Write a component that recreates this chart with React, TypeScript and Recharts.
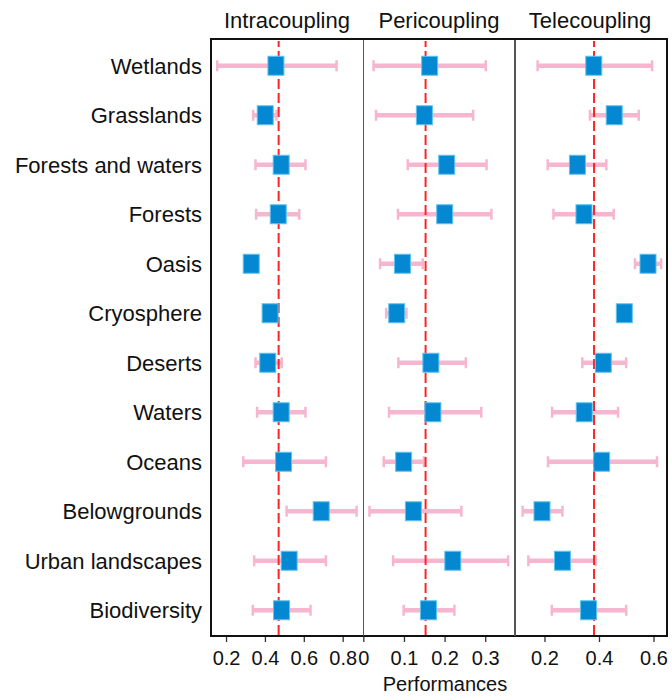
import React from "react"
import { ScatterChart, Scatter, XAxis, YAxis, ErrorBar, ReferenceLine } from "recharts"

const categories = [
  "Wetlands", "Grasslands", "Forests and waters", "Forests", "Oasis", "Cryosphere",
  "Deserts", "Waters", "Oceans", "Belowgrounds", "Urban landscapes", "Biodiversity",
]

const intraMean = [0.454, 0.399, 0.481, 0.466, 0.327, 0.424, 0.412, 0.481, 0.493, 0.687, 0.522, 0.483]
const intraLow = [0.152, 0.337, 0.349, 0.352, 0.312, 0.41, 0.349, 0.357, 0.286, 0.509, 0.342, 0.335]
const intraHigh = [0.766, 0.457, 0.606, 0.574, 0.342, 0.44, 0.484, 0.606, 0.711, 0.869, 0.711, 0.632]

const periMean = [0.162, 0.149, 0.204, 0.199, 0.095, 0.081, 0.165, 0.17, 0.098, 0.122, 0.219, 0.159]
const periLow = [0.024, 0.03, 0.108, 0.084, 0.04, 0.055, 0.085, 0.062, 0.049, 0.014, 0.072, 0.098]
const periHigh = [0.3, 0.269, 0.302, 0.314, 0.145, 0.105, 0.251, 0.289, 0.148, 0.24, 0.355, 0.223]

const teleMean = [0.379, 0.454, 0.319, 0.343, 0.578, 0.491, 0.414, 0.344, 0.408, 0.189, 0.264, 0.36]
const teleLow = [0.173, 0.365, 0.21, 0.231, 0.53, 0.48, 0.337, 0.226, 0.211, 0.118, 0.139, 0.225]
const teleHigh = [0.593, 0.544, 0.425, 0.452, 0.626, 0.502, 0.498, 0.468, 0.611, 0.264, 0.386, 0.498]

const intraTicks = [0.2, 0.4, 0.6, 0.8]
const periTicks = [0, 0.1, 0.2, 0.3]
const teleTicks = [0.2, 0.4, 0.6]

const intraRef = 0.468
const periRef = 0.152
const teleRef = 0.38

const W = 672
const H = 697
const FONT = "'Liberation Sans', Arial, sans-serif"
const rowTicks = categories.map((_, i) => i)

const Square = (props: any) => {
  const { cx, cy } = props
  if (cx == null || cy == null) return null
  return <rect x={cx - 8} y={cy - 9.5} width={16} height={19} fill="#0488d2" stroke="#5fc3f0" strokeWidth={1} />
}
const Empty = () => <g />

type PanelProps = {
  means: number[]
  lows: number[]
  highs: number[]
  ticks: number[]
  domain: [number, number]
  refValue: number
  left: number
  right: number
  showY?: boolean
}

function Panel({ means, lows, highs, ticks, domain, refValue, left, right, showY }: PanelProps) {
  const data = means.map((m, i) => ({ x: m, y: i, err: [m - lows[i], highs[i] - m] }))
  return (
    <div style={{ position: "absolute", left: 0, top: 0 }}>
      <ScatterChart width={W} height={H} margin={{ top: 41, bottom: 0, left: showY ? 0 : left, right }}>
        <XAxis
          type="number"
          dataKey="x"
          domain={domain}
          ticks={ticks}
          allowDataOverflow
          height={62}
          axisLine={false}
          tickSize={7}
          tickMargin={9}
          tickLine={{ stroke: "#333", strokeWidth: 1.3 }}
          tick={{ fontSize: 20, fill: "#111" }}
          tickFormatter={(v: number) => (v === 0 ? "0" : v.toFixed(1))}
        />
        <YAxis
          type="number"
          dataKey="y"
          domain={[-0.5, 11.5]}
          ticks={rowTicks}
          reversed
          hide={!showY}
          width={left}
          axisLine={false}
          tickLine={false}
          tickSize={0}
          tickMargin={9}
          interval={0}
          tick={{ fontSize: 22, fill: "#111" }}
          tickFormatter={(v: number) => categories[v] ?? ""}
        />
        <Scatter data={data} shape={Empty} isAnimationActive={false}>
          <ErrorBar dataKey="err" direction="x" width={0} stroke="#f7b6cf" strokeWidth={4.5} isAnimationActive={false} />
          <ErrorBar dataKey="err" direction="x" width={5.5} stroke="#f7b6cf" strokeWidth={2.5} isAnimationActive={false} />
        </Scatter>
        <ReferenceLine x={refValue} stroke="#ff2424" strokeWidth={2} strokeDasharray="10 4" />
        <Scatter data={data} shape={Square} isAnimationActive={false} />
      </ScatterChart>
    </div>
  )
}

const titleStyle: React.CSSProperties = {
  position: "absolute",
  top: 10,
  fontSize: 22,
  lineHeight: "22px",
  color: "#111",
  textAlign: "center",
  width: 160,
  whiteSpace: "nowrap",
}

export default function App() {
  return (
    <div style={{ position: "absolute", left: 0, top: 0, width: W, height: H, background: "#fff", fontFamily: FONT }}>
      <Panel means={intraMean} lows={intraLow} highs={intraHigh} ticks={intraTicks} domain={[0.12, 0.902]} refValue={intraRef} left={211} right={W - 363} showY />
      <Panel means={periMean} lows={periLow} highs={periHigh} ticks={periTicks} domain={[-0.002, 0.372]} refValue={periRef} left={363} right={W - 515} />
      <Panel means={teleMean} lows={teleLow} highs={teleHigh} ticks={teleTicks} domain={[0.09, 0.644]} refValue={teleRef} left={515} right={W - 666} />

      <div style={{ position: "absolute", left: 210, top: 38.3, width: 457.5, height: 599, border: "2.5px solid #111", boxSizing: "border-box", pointerEvents: "none" }} />
      <div style={{ position: "absolute", left: 362.6, top: 40, width: 1.3, height: 596, background: "#555" }} />
      <div style={{ position: "absolute", left: 514.4, top: 40, width: 1.3, height: 596, background: "#555" }} />

      <div style={{ ...titleStyle, left: 287 - 80 }}>Intracoupling</div>
      <div style={{ ...titleStyle, left: 439 - 80 }}>Pericoupling</div>
      <div style={{ ...titleStyle, left: 590 - 80 }}>Telecoupling</div>

      <div style={{ position: "absolute", left: 445 - 100, top: 674, width: 200, textAlign: "center", fontSize: 20, lineHeight: "20px", color: "#111" }}>
        Performances
      </div>
    </div>
  )
}
